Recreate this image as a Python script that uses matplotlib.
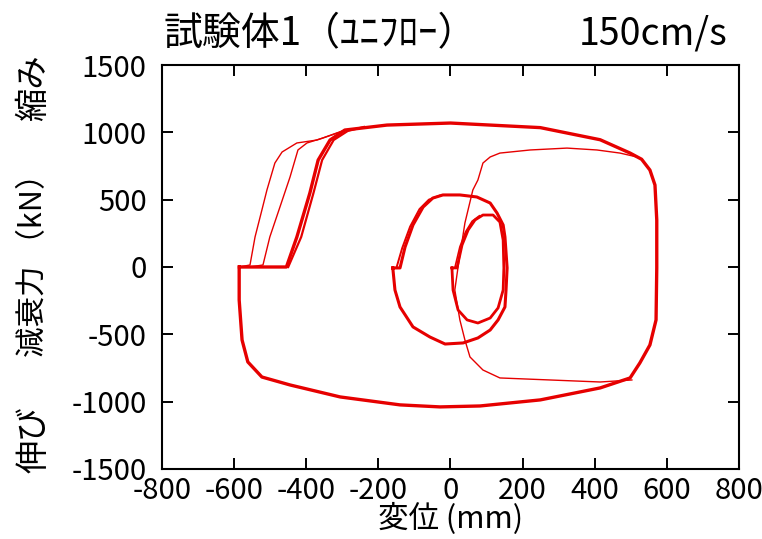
import matplotlib
matplotlib.use("Agg")
from matplotlib import pyplot as plt

plt.rcParams['font.family'] = ['Noto Sans CJK JP', 'DejaVu Sans']
plt.rcParams['axes.unicode_minus'] = False

RED = '#e60000'

# large amplitude loop (+-575 mm), repeated cycles -> thick line
big_x = [-585, -455, -426, -390, -367, -334, -293, -176, 0, 249, 415, 498, 530, 553,
         567, 572, 572, 570, 553, 525, 498, 415, 249, 82, -29, -140, -306, -445,
         -523, -562, -578, -586, -586]
big_y = [0, 0, 223, 549, 794, 943, 1017, 1054, 1069, 1035, 945, 846, 800, 720,
         609, 349, -7, -393, -579, -713, -824, -898, -987, -1032, -1039, -1024,
         -965, -876, -817, -705, -542, -245, 0]

# second pass of the compression branch of the large loop
big2_x = [-450, -414, -380, -356, -324, -285, -240]
big2_y = [0, 223, 549, 794, 943, 1010, 1040]

# early compression branches of the large loop (thin)
early1_x = [-585, -556, -542, -523, -509, -487, -467, -426, -370, -306]
early1_y = [0, 15, 223, 423, 572, 772, 854, 921, 943, 1002]
early2_x = [-556, -520, -501, -473, -445, -423, -398, -354, -293]
early2_y = [0, 15, 223, 445, 668, 869, 921, 958, 1017]

# first cycle towards +575 mm (thin)
first_x = [503, 415, 276, 137, 90, 54, 40, 26, 12, 21, 40, 62, 76, 90, 110, 137,
           221, 323, 406, 470, 517]
first_y = [-839, -854, -839, -824, -765, -668, -542, -393, -171, 0, 327, 572, 646,
           772, 817, 846, 869, 883, 869, 846, 817]

# medium loop (+-157 mm)
mid_x = [-160, -140, -126, -104, -76, -49, -21, 26, 73, 110, 129, 146, 151, 157,
         154, 151, 132, 110, 76, 35, -15, -57, -104, -140, -154, -160]
mid_y = [-7, -7, 148, 312, 445, 512, 535, 535, 520, 475, 401, 312, 223, -7,
         -171, -297, -393, -468, -527, -564, -572, -520, -445, -297, -171, -7]
mid2_x = [-150, -134, -112, -86, -60, -30]
mid2_y = [-7, 140, 300, 430, 500, 530]

# small loop (0 .. 150 mm)
small_x = [4, 18, 32, 49, 68, 90, 118, 137, 146, 148, 146, 132, 110, 76, 46, 21, 7, 4]
small_y = [-7, -7, 163, 275, 349, 386, 386, 334, 200, -7, -171, -304, -379, -416,
           -393, -319, -171, -7]
small2_x = [12, 26, 42, 60, 80]
small2_y = [-7, 150, 262, 340, 380]

fig = plt.figure(figsize=(7.62, 5.39), dpi=100)
ax = fig.add_axes([0.2126, 0.1299, 0.7572, 0.7495])

ax.plot(big_x, big_y, color=RED, lw=2.4)
ax.plot(big2_x, big2_y, color=RED, lw=1.6)
ax.plot(early1_x, early1_y, color=RED, lw=1.0)
ax.plot(early2_x, early2_y, color=RED, lw=1.0)
ax.plot(first_x, first_y, color=RED, lw=1.0)
ax.plot(mid_x, mid_y, color=RED, lw=2.2)
ax.plot(mid2_x, mid2_y, color=RED, lw=1.4)
ax.plot(small_x, small_y, color=RED, lw=2.0)
ax.plot(small2_x, small2_y, color=RED, lw=1.2)

ax.set_xlim(-800, 800)
ax.set_ylim(-1500, 1500)
ax.set_xticks(range(-800, 801, 200))
ax.set_yticks(range(-1500, 1501, 500))
ax.tick_params(axis='both', direction='in', top=True, right=True,
               length=8, width=1.4, labelsize=21)
ax.tick_params(axis='x', pad=5)
ax.tick_params(axis='y', pad=11)
for s in ax.spines.values():
    s.set_linewidth(1.5)

ax.set_xlabel('変位 (mm)', fontsize=22, labelpad=-2)

fig.text(0.214, 0.937, '試験体1（ﾕﾆﾌﾛｰ）', fontsize=28, ha='left', va='center')
fig.text(0.955, 0.937, '150cm/s', fontsize=27, ha='right', va='center')

fig.text(0.044, 1 - 88 / 539, '縮み', fontsize=24, rotation=90, ha='center', va='center')
fig.text(0.044, 1 - 258 / 539, '減衰力 （kN）', fontsize=22, rotation=90, ha='center', va='center')
fig.text(0.044, 1 - 440 / 539, '伸び', fontsize=24, rotation=90, ha='center', va='center')

fig.savefig('out.png', dpi=100)
